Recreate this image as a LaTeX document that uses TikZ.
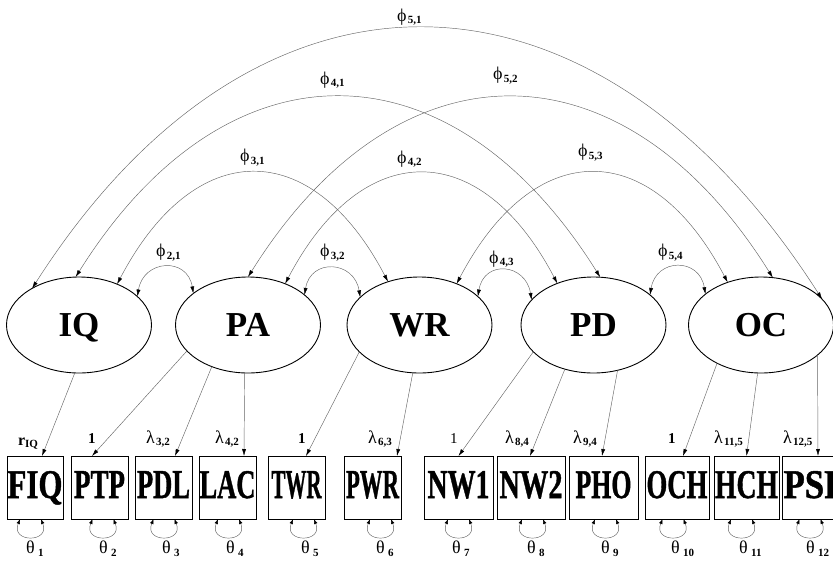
\documentclass[tikz,border=0pt]{standalone}
\usepackage{fontspec}
\setmainfont{Liberation Serif}
\newfontface\boxfont[FakeBold=1.2]{Liberation Serif Bold}
\usepackage{graphicx}
\usetikzlibrary{arrows.meta,shapes.geometric}
\newcommand\subf{\fontsize{11}{12}\selectfont\bfseries}
\newcommand\btx[2]{\resizebox{#1pt}{27pt}{\boxfont #2}}
\newcommand\gl[2]{#1\hspace{1.5pt}\raisebox{-2.5pt}{\subf #2}}
\newcommand\tl[2]{#1\hspace{3.5pt}\raisebox{-3pt}{\subf #2}}
\tikzset{
  lat/.style={ellipse, draw, line width=0.9pt, minimum width=145pt, minimum height=96pt,
    inner sep=0pt, outer sep=0pt, font=\fontsize{35}{35}\selectfont\bfseries,
    text height=23pt, text depth=0pt},
  obs/.style={rectangle, draw, line width=0.8pt, minimum height=63pt, inner sep=0pt,
    outer sep=0pt, text height=27pt, text depth=6pt},
  ld/.style={draw=black!60, line width=0.45pt, -{Latex[length=7pt,width=4pt,color=black]}},
  cov/.style={draw=black!60, line width=0.45pt,
    {Latex[length=7pt,width=4pt,color=black]}-{Latex[length=7pt,width=4pt,color=black]}},
  err/.style={draw=black!60, line width=0.45pt,
    {Latex[length=5pt,width=3.5pt,color=black]}-{Latex[length=5pt,width=3.5pt,color=black]}},
  lab/.style={anchor=base west, inner sep=0pt, outer sep=0pt, font=\fontsize{18}{18}\selectfont},
  one/.style={anchor=base west, inner sep=0pt, outer sep=0pt, font=\fontsize{15}{15}\selectfont\bfseries},
}
\begin{document}
\begin{tikzpicture}[x=1pt, y=-1pt]
\useasboundingbox (0,0) rectangle (833,560);

% latent variables
\node[lat] (IQ) at (79,325) {IQ};
\node[lat] (PA) at (248,325) {PA};
\node[lat] (WR) at (419.5,325) {WR};
\node[lat] (PD) at (593.5,325) {PD};
\node[lat] (OC) at (761,325) {OC};

% observed variables
\node[obs, minimum width=56pt] (FIQ) at (35,487.5) {\btx{55}{FIQ}};
\node[obs, minimum width=57pt] (PTP) at (99.5,487.5) {\btx{51}{PTP}};
\node[obs, minimum width=57pt] (PDL) at (163.5,487.5) {\btx{53}{PDL}};
\node[obs, minimum width=57pt] (LAC) at (227.5,487.5) {\btx{56}{LAC}};
\node[obs, minimum width=57pt] (TWR) at (296.5,487.5) {\btx{50}{TWR}};
\node[obs, minimum width=57pt] (PWR) at (372.5,487.5) {\btx{53}{PWR}};
\node[obs, minimum width=69pt] (NW1) at (458.5,487.5) {\btx{62}{NW1}};
\node[obs, minimum width=68pt] (NW2) at (531,487.5) {\btx{63}{NW2}};
\node[obs, minimum width=69pt] (PHO) at (603.5,487.5) {\btx{56}{PHO}};
\node[obs, minimum width=64pt] (OCH) at (677,487.5) {\btx{61}{OCH}};
\node[obs, minimum width=65pt] (HCH) at (746.5,487.5) {\btx{63}{HCH}};
\node[obs, minimum width=65pt] (PSP) at (814.5,487.5) {\btx{62}{PSP}};

% loadings
\draw[ld] (IQ.265) -- ([xshift=7pt]FIQ.north);
\draw[ld] (PA.203) -- ([xshift=-7.5pt]PTP.north);
\draw[ld] (PA.229) -- ([xshift=11.5pt]PDL.north);
\draw[ld] (PA.266) -- ([xshift=16.5pt]LAC.north);
\draw[ld] (WR.204) -- ([xshift=9.5pt]TWR.north);
\draw[ld] (WR.262) -- ([xshift=24.5pt]PWR.north);
\draw[ld] (PD.204) -- (NW1.north);
\draw[ld] (PD.237) -- ([xshift=-1pt]NW2.north);
\draw[ld] (PD.298) -- ([xshift=-1.5pt]PHO.north);
\draw[ld] (OC.221) -- ([xshift=6pt]OCH.north);
\draw[ld] (OC.266) -- (HCH.north);
\draw[ld] (OC.332) -- ([xshift=3.5pt]PSP.north);

% factor covariances
\draw[cov] (IQ.142) .. controls +(226,-354) and +(-226,-354) .. (OC.23);
\draw[cov] (IQ.94) .. controls +(150,-240) and +(-150,-240) .. (PD.82);
\draw[cov] (PA.90) .. controls +(150,-240) and +(-150,-240) .. (OC.76);
\draw[cov] (IQ.47) .. controls +(77,-147) and +(-77,-147) .. (WR.126);
\draw[cov] (PA.48) .. controls +(77,-147) and +(-77,-147) .. (PD.131);
\draw[cov] (WR.48) .. controls +(77,-147) and +(-77,-147) .. (OC.128);
\draw[cov] (IQ.26) .. controls +(6,-37) and +(-6,-37) .. (PA.150);
\draw[cov] (PA.28) .. controls +(6,-37) and +(-6,-37) .. (WR.155);
\draw[cov] (WR.26) .. controls +(6,-37) and +(-6,-37) .. (PD.158);
\draw[cov] (PD.28) .. controls +(6,-37) and +(-6,-37) .. (OC.151);

% error variances
\draw[err] ([xshift=-14.9pt]FIQ.south) .. controls +(-10,24) and +(10,24) .. ([xshift=5.9pt]FIQ.south);
\draw[err] ([xshift=-6.9pt]PTP.south) .. controls +(-10,24) and +(10,24) .. ([xshift=13.9pt]PTP.south);
\draw[err] ([xshift=-9.9pt]PDL.south) .. controls +(-10,24) and +(10,24) .. ([xshift=10.9pt]PDL.south);
\draw[err] ([xshift=-9.4pt]LAC.south) .. controls +(-10,24) and +(10,24) .. ([xshift=11.4pt]LAC.south);
\draw[err] ([xshift=-3.4pt]TWR.south) .. controls +(-10,24) and +(10,24) .. ([xshift=17.4pt]TWR.south);
\draw[err] ([xshift=-2.4pt]PWR.south) .. controls +(-10,24) and +(10,24) .. ([xshift=18.4pt]PWR.south);
\draw[err] ([xshift=-10.4pt]NW1.south) .. controls +(-10,24) and +(10,24) .. ([xshift=10.4pt]NW1.south);
\draw[err] ([xshift=-8.9pt]NW2.south) .. controls +(-10,24) and +(10,24) .. ([xshift=11.9pt]NW2.south);
\draw[err] ([xshift=-8.4pt]PHO.south) .. controls +(-10,24) and +(10,24) .. ([xshift=12.4pt]PHO.south);
\draw[err] ([xshift=-14.4pt]OCH.south) .. controls +(-10,24) and +(10,24) .. ([xshift=6.4pt]OCH.south);
\draw[err] ([xshift=-15.4pt]HCH.south) .. controls +(-10,24) and +(10,24) .. ([xshift=5.4pt]HCH.south);
\draw[err] ([xshift=-14.9pt]PSP.south) .. controls +(-10,24) and +(10,24) .. ([xshift=5.9pt]PSP.south);

% covariance labels
\node[lab] (l51) at (397,21) {\gl{ϕ}{5,1}};
\node[lab] (l41) at (320,84) {\gl{ϕ}{4,1}};
\node[lab] (l52) at (493,79.5) {\gl{ϕ}{5,2}};
\node[lab] (l31) at (240,161.5) {\gl{ϕ}{3,1}};
\node[lab] (l42) at (397,163) {\gl{ϕ}{4,2}};
\node[lab] (l53) at (578,156.5) {\gl{ϕ}{5,3}};
\node[lab] (l21) at (156,256.5) {\gl{ϕ}{2,1}};
\node[lab] (l32) at (320,256.5) {\gl{ϕ}{3,2}};
\node[lab] (l43) at (489,263) {\gl{ϕ}{4,3}};
\node[lab] (l54) at (658,256.5) {\gl{ϕ}{5,4}};

% loading labels
\node[one] (rIQ) at (18,445) {\fontsize{16}{16}\selectfont r\raisebox{-2.5pt}{\subf IQ}};
\node[one] (o2) at (88,443) {1};
\node[lab] (m32) at (146,443) {\gl{λ}{3,2}};
\node[lab] (m42) at (215,443) {\gl{λ}{4,2}};
\node[one] (o5) at (298,443) {1};
\node[lab] (m63) at (368,443) {\gl{λ}{6,3}};
\node[one, font=\fontsize{15}{15}\selectfont] (o7) at (450,443) {1};
\node[lab] (m84) at (505,443) {\gl{λ}{8,4}};
\node[lab] (m94) at (573,443) {\gl{λ}{9,4}};
\node[one] (o10) at (668,443) {1};
\node[lab] (m115) at (714,443) {\gl{λ}{11,5}};
\node[lab] (m125) at (783,443) {\gl{λ}{12,5}};

% error labels
\node[lab] (t1) at (26,553) {\tl{θ}{1}};
\node[lab] (t2) at (99,553) {\tl{θ}{2}};
\node[lab] (t3) at (162,553) {\tl{θ}{3}};
\node[lab] (t4) at (226,553) {\tl{θ}{4}};
\node[lab] (t5) at (301,553) {\tl{θ}{5}};
\node[lab] (t6) at (376,553) {\tl{θ}{6}};
\node[lab] (t7) at (452,553) {\tl{θ}{7}};
\node[lab] (t8) at (527,553) {\tl{θ}{8}};
\node[lab] (t9) at (601,553) {\tl{θ}{9}};
\node[lab] (t10) at (671,553) {\tl{θ}{10}};
\node[lab] (t11) at (739,553) {\tl{θ}{11}};
\node[lab] (t12) at (806,553) {\tl{θ}{12}};
\end{tikzpicture}
\end{document}
